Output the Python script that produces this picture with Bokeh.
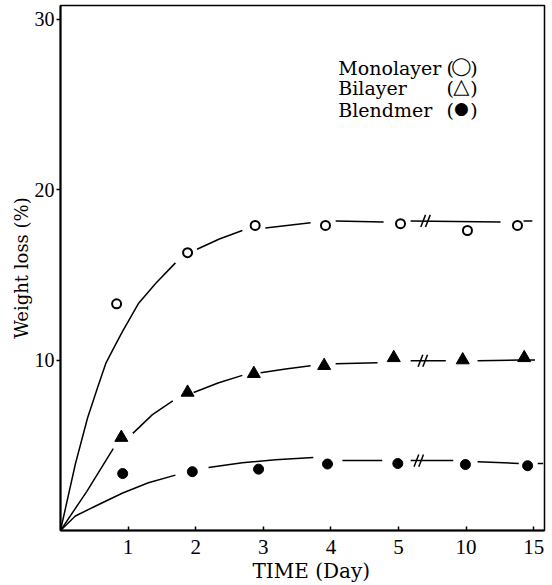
from bokeh.plotting import figure
from bokeh.models import Range1d, FixedTicker, Label, ColumnDataSource, Title
from bokeh.transform import dodge
from bokeh.embed import file_html
from bokeh.resources import INLINE

nan = float("nan")

# ---- data (x = position along the broken time axis; ticks at 1..7) ----
tick_pos = [1, 2, 3, 4, 5, 6, 7]
tick_labels = ["1", "2", "3", "4", "5", "10", "15"]

mono_x = [0.83, 1.88, 2.88, 3.92, 5.03, 6.02, 6.76]
mono_y = [13.3, 16.3, 17.9, 17.9, 18.0, 17.6, 17.9]
bi_x = [0.90, 1.88, 2.86, 3.90, 4.93, 5.95, 6.86]
bi_y = [5.45, 8.1, 9.2, 9.67, 10.13, 10.0, 10.13]
blend_x = [0.92, 1.95, 2.93, 3.95, 4.99, 5.99, 6.91]
blend_y = [3.34, 3.45, 3.6, 3.9, 3.93, 3.87, 3.8]

# fitted curves as drawn (NaN = gap in the drawn line)
mono_cx = [0, 0.22, 0.40, 0.55, 0.67, 0.80, 0.92, 1.15, 1.41, 1.70, nan, 2.02, 2.35, 2.69, nan,
           3.03, 3.70, nan, 4.07, 4.78, nan, 5.18, 6.51, nan, 6.85, 6.98]
mono_cy = [0, 3.9, 6.6, 8.4, 9.8, 10.8, 11.7, 13.3, 14.5, 15.7, nan, 16.5, 17.1, 17.6, nan,
           17.75, 18.05, nan, 18.16, 18.1, nan, 18.16, 18.1, nan, 18.16, 18.16]
bi_cx = [0, 0.39, 0.78, nan, 1.07, 1.36, 1.66, nan, 1.97, 2.33, 2.69, nan,
         2.96, 3.33, 3.70, nan, 4.07, 4.69, nan, 5.18, 5.70, nan, 6.17, 6.80, nan, 6.92, 7.02]
bi_cy = [0, 2.3, 4.8, nan, 5.7, 6.8, 7.6, nan, 8.1, 8.65, 9.1, nan,
         9.25, 9.48, 9.67, nan, 9.78, 9.84, nan, 9.96, 9.96, nan, 9.96, 10.0, nan, 10.0, 10.0]
blend_cx = [0, 0.22, 0.52, 0.92, 1.30, 1.70, nan, 2.19, 2.69, 3.18, 3.74, nan,
            4.17, 4.76, nan, 5.18, 5.81, nan, 6.17, 6.78, nan, 7.06, 7.14]
blend_cy = [0, 0.85, 1.44, 2.2, 2.8, 3.25, nan, 3.69, 3.98, 4.15, 4.28, nan,
            4.1, 4.1, nan, 4.1, 4.1, nan, 4.04, 3.93, nan, 3.93, 3.93]

break_x = [5.40, 5.36, 5.30]
break_y = [18.16, 9.96, 4.1]

legend_names = ["Monolayer", "Bilayer", "Blendmer"]
legend_syms = ["\u25EF", "\u25B3", "\u25CF"]

# ---- figure ----
p = figure(width=552, height=585, output_backend="svg", toolbar_location=None,
           x_range=Range1d(0, 7.16), y_range=Range1d(0, 30.8),
           min_border_left=60, min_border_right=8, min_border_top=5, min_border_bottom=55)
p.grid.visible = False
p.background_fill_color = "white"
p.border_fill_color = "white"
p.outline_line_color = "black"
p.outline_line_width = 1.5

serif_ticks = "Liberation Serif"
serif = "DejaVu Serif"

xa = p.xaxis[0]
xa.ticker = FixedTicker(ticks=tick_pos)
xa.major_label_overrides = {t: l for t, l in zip(tick_pos, tick_labels)}
xa.major_tick_in = 4
xa.major_tick_out = 0
xa.minor_tick_line_color = None
xa.axis_line_width = 2
xa.major_tick_line_width = 1.5
xa.major_label_text_font = serif_ticks
xa.major_label_text_font_size = "21px"
xa.major_label_text_color = "black"
xa.major_label_standoff = 9

ya = p.yaxis[0]
ya.ticker = FixedTicker(ticks=[10, 20, 30])
ya.major_tick_in = 0
ya.major_tick_out = 4
ya.minor_tick_line_color = None
ya.axis_line_width = 2
ya.major_tick_line_width = 1.5
ya.major_label_text_font = serif_ticks
ya.major_label_text_font_size = "20px"
ya.major_label_text_color = "black"
ya.major_label_standoff = 2
ya.axis_label = "Weight loss (%)"
ya.axis_label_text_font = serif
ya.axis_label_text_font_style = "normal"
ya.axis_label_text_font_size = "18px"
ya.axis_label_text_color = "black"
ya.axis_label_standoff = 0

# x axis title (shifted right as in the reference)
p.add_layout(Title(text="TIME (Day)", align="left", offset=192, text_font=serif,
                   text_font_size="20px", text_font_style="normal", text_color="black",
                   standoff=0), "below")

# curves
for cx, cy in [(mono_cx, mono_cy), (bi_cx, bi_cy), (blend_cx, blend_cy)]:
    p.line(cx, cy, line_color="black", line_width=1.5)

# break marks
bsrc = ColumnDataSource(dict(x=break_x, y=break_y))
for off in (-0.035, 0.035):
    p.scatter(x=dodge("x", off, range=p.x_range), y="y", source=bsrc, marker="dash",
              size=13, angle=1.2, line_color="black", line_width=1.5)

# markers
p.scatter(mono_x, mono_y, marker="circle", size=9, fill_color="white",
          line_color="black", line_width=2)
p.scatter(bi_x, bi_y, marker="triangle", size=13, fill_color="black", line_color="black")
p.scatter(blend_x, blend_y, marker="circle", size=10, fill_color="black", line_color="black")

# legend block
base_y = [27.16, 25.98, 24.69]
sym_sizes = ["18px", "21px", "17px"]
for name, sym, by, ss in zip(legend_names, legend_syms, base_y, sym_sizes):
    p.add_layout(Label(x=4.11, y=by, text=name, text_font=serif, text_font_size="19px",
                       text_baseline="alphabetic", text_color="black"))
    p.add_layout(Label(x=5.71, y=by, text="(", text_font=serif, text_font_size="19px",
                       text_baseline="alphabetic", text_color="black"))
    p.add_layout(Label(x=6.17, y=by, text=")", text_font=serif, text_font_size="19px",
                       text_align="right", text_baseline="alphabetic", text_color="black"))
    p.add_layout(Label(x=5.93, y=by + 0.1, text=sym, text_font="DejaVu Sans",
                       text_font_size=ss, text_align="center",
                       text_baseline="alphabetic", text_color="black"))

open("out.html", "w").write(file_html(p, INLINE))
